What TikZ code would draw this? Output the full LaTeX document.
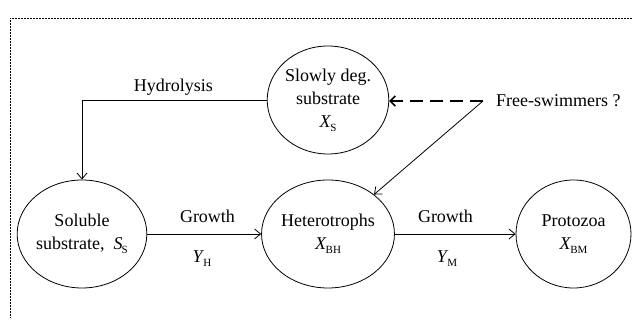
\documentclass[tikz,border=0pt]{standalone}
\usepackage{fontspec}
\setmainfont{Liberation Serif}
\usetikzlibrary{shapes.geometric,arrows.meta}
\newcommand{\mysub}[2]{\textit{#1}\kern-0.05em\raisebox{-0.45ex}{\fontsize{11}{11}\selectfont #2}}
\tikzset{
  compart/.style={ellipse,draw,line width=0.8pt,minimum width=115pt,minimum height=108pt,inner sep=0pt,align=center,font=\fontsize{18}{23}\selectfont},
  lbl/.style={inner sep=0pt,anchor=base,font=\fontsize{18}{22}\selectfont},
  flow/.style={line width=0.8pt,-{Straight Barb[length=6pt,width=10pt,line width=0.8pt]}},
  guess/.style={line width=1.8pt,dash pattern=on 13pt off 7pt,-{Straight Barb[length=5pt,width=10pt,line width=1.6pt]}},
  frame/.style={line width=0.6pt,dash pattern=on 2pt off 1pt}
}
\begin{document}
\begin{tikzpicture}[x=1pt,y=1pt]
\useasboundingbox (0,0) rectangle (632,320);
\draw[frame] (632,302) -- (10,302) -- (10,2);
\node[compart] (slow) at (328,220) {Slowly deg.\\substrate\\\mysub{X}{S}};
\node[compart] (sol) at (82,86) {Soluble\\substrate,\ \ \mysub{S}{S}};
\node[compart] (het) at (328,86) {Heterotrophs\\\mysub{X}{BH}};
\node[compart] (pro) at (573.5,86) {Protozoa\\\mysub{X}{BM}};
\node[lbl,anchor=base west] (free) at (496,213) {Free-swimmers ?};
\coordinate (fs) at (483,219);
\node[lbl] (hyd) at (173.5,228) {Hydrolysis};
\node[lbl] (g1) at (207.5,97) {Growth};
\node[lbl] (yh) at (202,57) {\mysub{Y}{H}};
\node[lbl] (g2) at (445.5,97) {Growth};
\node[lbl] (ym) at (447,57) {\mysub{Y}{M}};
\draw[flow] (slow.west) -| (sol.north);
\draw[flow] (sol) -- (het);
\draw[flow] (het) -- (pro);
\draw[flow] (fs) -- (het);
\draw[guess] (fs) -- (slow.east |- fs);
\end{tikzpicture}
\end{document}
